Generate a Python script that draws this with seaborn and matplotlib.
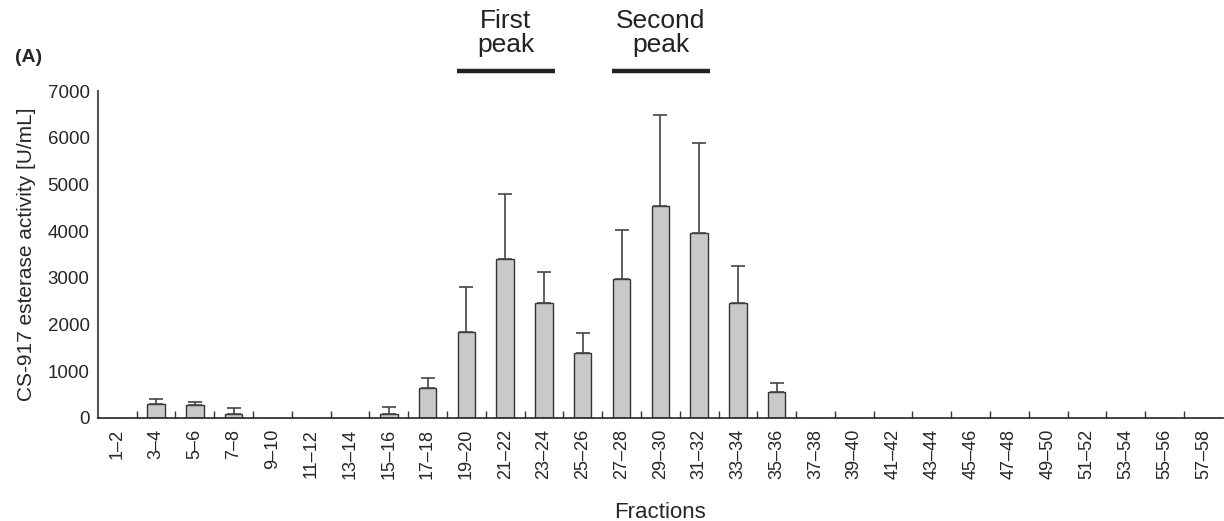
import numpy as np
import pandas as pd
import matplotlib
matplotlib.use('Agg')
import matplotlib.pyplot as plt
import matplotlib.transforms as mtransforms
import seaborn as sns

# fractions and activity values
fractions = ['1–2', '3–4', '5–6', '7–8', '9–10', '11–12', '13–14', '15–16',
             '17–18', '19–20', '21–22', '23–24', '25–26', '27–28', '29–30',
             '31–32', '33–34', '35–36', '37–38', '39–40', '41–42', '43–44',
             '45–46', '47–48', '49–50', '51–52', '53–54', '55–56', '57–58']
activity = [0, 300, 270, 80, 0, 0, 0, 80, 630, 1850, 3400, 2470, 1400, 2970,
            4550, 3970, 2470, 550, 0, 0, 0, 0, 0, 0, 0, 0, 0, 0, 0]
err_upper = [0, 100, 70, 130, 0, 0, 0, 150, 220, 950, 1400, 660, 420, 1050,
             1930, 1910, 780, 190, 0, 0, 0, 0, 0, 0, 0, 0, 0, 0, 0]

peak_labels = ['First\npeak', 'Second\npeak']
peak_spans = [('19–20', '23–24'), ('27–28', '31–32')]

df = pd.DataFrame({'Fraction': fractions, 'Activity': activity, 'Err': err_upper})

sns.set_theme(style='white')
plt.rcParams['font.family'] = ['Liberation Sans', 'DejaVu Sans']

fig = plt.figure(figsize=(12.24, 5.21), dpi=100)
ax = fig.add_axes([0.080, 0.198, 0.919, 0.627])

sns.barplot(data=df, x='Fraction', y='Activity', order=fractions,
            color='#c8c9cb', saturation=1, width=0.45,
            edgecolor='#333333', linewidth=1.0, ax=ax)

# upward-only error bars
pos = np.arange(len(fractions))
mask = df['Err'].values > 0
ax.errorbar(pos[mask], df['Activity'].values[mask],
            yerr=[np.zeros(mask.sum()), df['Err'].values[mask]],
            fmt='none', ecolor='#444444', elinewidth=1.2, capsize=5, capthick=1.2)

ax.set_xlim(-0.5, len(fractions) - 0.5)
ax.set_ylim(0, 7000)
ax.set_yticks(range(0, 7001, 1000))
ax.tick_params(axis='y', direction='in', length=5, width=1, color='#555555',
               labelsize=13.5, pad=6)
ax.set_xticks(pos)
ax.set_xticklabels(fractions, rotation=90, fontsize=13)
ax.set_xticks(np.arange(0.5, len(fractions) - 0.5, 1), minor=True)
ax.tick_params(axis='x', which='major', length=0, pad=8)
ax.tick_params(axis='x', which='minor', direction='in', length=5, width=1,
               color='#333333', bottom=True)

for s in ['top', 'right']:
    ax.spines[s].set_visible(False)
ax.spines['left'].set_color('#555555')
ax.spines['left'].set_linewidth(1.5)
ax.spines['bottom'].set_color('#222222')
ax.spines['bottom'].set_linewidth(1.2)

ax.set_xlabel('Fractions', fontsize=16, labelpad=16)
ax.set_ylabel('CS-917 esterase activity [U/mL]', fontsize=15, labelpad=8)

# peak markers above the axes
trans = mtransforms.blended_transform_factory(ax.transData, ax.transAxes)
for lab, (a, b) in zip(peak_labels, peak_spans):
    x0 = fractions.index(a) - 0.25
    x1 = fractions.index(b) + 0.28
    ax.plot([x0, x1], [1.062, 1.062], color='#222222', lw=3.2,
            transform=trans, clip_on=False, solid_capstyle='butt')
    ax.text((x0 + x1) / 2, 1.105, lab, transform=trans, ha='center', va='bottom',
            fontsize=19, linespacing=1.0, color='#222222')

fig.text(0.012, 0.89, '(A)', fontsize=14, fontweight='bold', ha='left', va='center')

fig.savefig('out.png', dpi=100)
